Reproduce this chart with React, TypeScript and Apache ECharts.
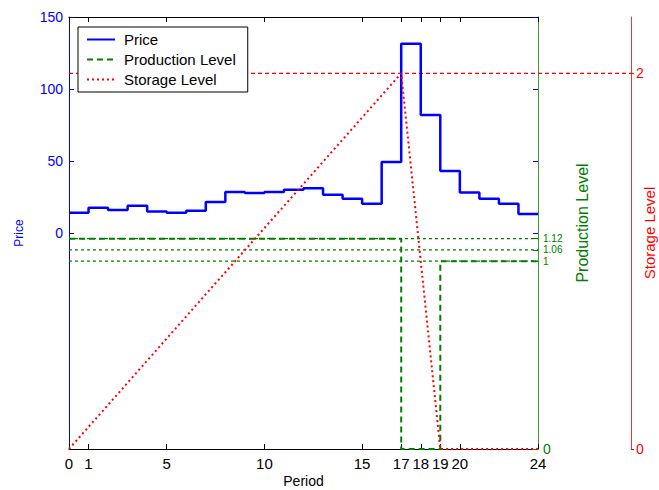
import React, { useEffect, useRef } from "react";
import * as echarts from "echarts";

// ---- data ----
const periods = [0, 1, 2, 3, 4, 5, 6, 7, 8, 9, 10, 11, 12, 13, 14, 15, 16, 17, 18, 19, 20, 21, 22, 23, 24];
// price held during period k (interval [k-1, k]), k = 1..24
const price = [14, 17.6, 16, 19, 15, 14, 15.5, 21.5, 28.5, 27.8, 28.5, 30, 31, 26.6, 23.8, 20.3, 49.3, 131.5, 82, 43, 28.2, 23.8, 20.3, 13.2];
// production level held during period k, k = 1..24
const production = [1.12, 1.12, 1.12, 1.12, 1.12, 1.12, 1.12, 1.12, 1.12, 1.12, 1.12, 1.12, 1.12, 1.12, 1.12, 1.12, 1.12, 0, 0, 1, 1, 1, 1, 1];
// storage level breakpoints
const storageX = [0, 17, 19, 24];
const storageY = [0, 2, 0, 0];
const productionRefLevels = [1.12, 1.06, 1];
const storageRefLevels = [2];

const xTicks = [0, 1, 5, 10, 15, 17, 18, 19, 20, 24];
const priceTicks = [0, 50, 100, 150];
const productionTicks = [0, 1, 1.12];
const productionMidTicks = [1.06];
const productionTickLabels: Record<string, string> = { "0": "0", "1": "1", "1.06": "1.06", "1.12": "1.12" };
const storageTicks = [0, 2];

// ---- layout ----
const W = 659;
const H = 490;
const LEFT = 69;
const TOP = 17;
const RIGHT1 = 538;
const RIGHT2 = 631;
const BOTTOM = 449;

const BLUE = "#0000ff";
const GREEN = "#008000";
const RED = "#ff0000";
const FONT = "Liberation Sans, Arial, sans-serif";

export default function App() {
  const ref = useRef<HTMLDivElement>(null);
  useEffect(() => {
    document.body.style.margin = "0";
    if (!ref.current) return;
    const chart = echarts.init(ref.current, null, { renderer: "svg" });
    const xMax = periods[periods.length - 1];
    const xMax2 = (xMax * (RIGHT2 - LEFT)) / (RIGHT1 - LEFT);

    const stepData = (vals: number[]) =>
      periods.map((p, i) => [p, vals[i === 0 ? 0 : i - 1]]);

    const prodFormatter = (v: number) => {
      const key = String(Math.round(v * 100) / 100);
      const txt = productionTickLabels[key] ?? key;
      return v === 0 ? "{big|" + txt + "}" : "{s|" + txt + "}";
    };

    const prodLabel = (vals: number[]) => ({
      customValues: vals,
      formatter: prodFormatter,
      color: GREEN,
      fontSize: 10,
      lineHeight: 10,
      margin: 5,
      fontFamily: FONT,
      hideOverlap: false,
      rich: {
        s: { color: GREEN, fontSize: 10, lineHeight: 10, fontFamily: FONT },
        big: { color: GREEN, fontSize: 14, lineHeight: 14, fontFamily: FONT },
      },
    });

    const refSeries: any[] = [
      ...productionRefLevels.map((v) => ({
        name: "ref-prod-" + v,
        type: "line",
        xAxisIndex: 0,
        yAxisIndex: 2,
        symbol: "none",
        silent: true,
        data: [
          [0, v],
          [xMax, v],
        ],
        lineStyle: { color: GREEN, width: 1.2, type: [3, 3] },
        itemStyle: { color: GREEN },
        z: 2,
      })),
      ...storageRefLevels.map((v) => ({
        name: "ref-stor-" + v,
        type: "line",
        xAxisIndex: 2,
        yAxisIndex: 3,
        symbol: "none",
        silent: true,
        data: [
          [0, v],
          [xMax2, v],
        ],
        lineStyle: { color: RED, width: 1.2, type: [4, 3] },
        itemStyle: { color: RED },
        z: 2,
      })),
    ];

    const option: any = {
      animation: false,
      backgroundColor: "#ffffff",
      textStyle: { fontFamily: FONT },
      grid: [
        { left: LEFT, top: TOP, width: RIGHT1 - LEFT, height: BOTTOM - TOP, containLabel: false, outerBoundsMode: "none" },
        { left: LEFT, top: TOP, width: RIGHT2 - LEFT, height: BOTTOM - TOP, containLabel: false, outerBoundsMode: "none" },
      ],
      legend: {
        data: ["Price", "Production Level", "Storage Level"],
        orient: "vertical",
        left: 78,
        top: 27,
        itemWidth: 28,
        itemHeight: 14,
        itemGap: 5,
        padding: [5, 12, 5, 8],
        borderColor: "#000",
        borderWidth: 1,
        borderRadius: 0,
        backgroundColor: "#fff",
        itemStyle: { opacity: 0, borderWidth: 0 },
        textStyle: { color: "#000", fontSize: 15, fontFamily: FONT, padding: [0, 0, 0, 4] },
      },
      xAxis: [
        {
          gridIndex: 0,
          type: "value",
          min: 0,
          max: xMax,
          position: "bottom",
          axisLine: { onZero: false, lineStyle: { color: "#000", width: 1 } },
          axisTick: { inside: true, length: 5, customValues: xTicks, lineStyle: { color: "#000" } },
          axisLabel: { customValues: xTicks, color: "#000", fontSize: 15, margin: 7, fontFamily: FONT, hideOverlap: false },
          splitLine: { show: false },
          name: "Period",
          nameLocation: "middle",
          nameGap: 25,
          nameMoveOverlap: false,
          nameTextStyle: { color: "#000", fontSize: 14, fontFamily: FONT },
        },
        {
          gridIndex: 0,
          type: "value",
          min: 0,
          max: xMax,
          position: "top",
          axisLine: { onZero: false, lineStyle: { color: "#000", width: 1 } },
          axisTick: { inside: true, length: 5, customValues: xTicks, lineStyle: { color: "#000" } },
          axisLabel: { show: false },
          splitLine: { show: false },
        },
        {
          gridIndex: 1,
          type: "value",
          min: 0,
          max: xMax2,
          show: false,
          splitLine: { show: false },
        },
      ],
      yAxis: [
        {
          gridIndex: 0,
          type: "value",
          min: -150,
          max: 150,
          position: "left",
          axisLine: { show: true, onZero: false, lineStyle: { color: BLUE, width: 1 } },
          axisTick: { show: true, inside: true, length: 5, customValues: priceTicks, lineStyle: { color: BLUE } },
          axisLabel: { customValues: priceTicks, color: BLUE, fontSize: 14, margin: 6, fontFamily: FONT },
          splitLine: { show: false },
          name: "Price",
          nameLocation: "middle",
          nameGap: 44,
          nameMoveOverlap: false,
          nameRotate: 90,
          nameTextStyle: { color: BLUE, fontSize: 12, fontFamily: FONT },
        },
        {
          gridIndex: 0,
          type: "value",
          min: -150,
          max: 150,
          position: "right",
          axisLine: { show: false, onZero: false },
          axisTick: { show: true, inside: true, length: 5, customValues: priceTicks, lineStyle: { color: BLUE } },
          axisLabel: { show: false },
          splitLine: { show: false },
        },
        {
          gridIndex: 0,
          type: "value",
          min: 0,
          max: 2.3,
          position: "right",
          axisLine: { show: true, onZero: false, lineStyle: { color: "#3a9a3a", width: 1 } },
          axisTick: { show: true, inside: true, length: 5, customValues: productionTicks, lineStyle: { color: GREEN } },
          axisLabel: prodLabel(productionTicks),
          splitLine: { show: false },
          name: "Production Level",
          nameLocation: "middle",
          nameGap: 36,
          nameMoveOverlap: false,
          nameRotate: 90,
          nameTextStyle: { color: GREEN, fontSize: 16, fontFamily: FONT, padding: [0, 0, 0, 20] },
        },
        {
          gridIndex: 1,
          type: "value",
          min: 0,
          max: 2.3,
          position: "right",
          axisLine: { show: true, onZero: false, lineStyle: { color: "#ff3030", width: 1 } },
          axisTick: { show: true, inside: false, length: 3, customValues: storageTicks, lineStyle: { color: RED } },
          axisLabel: { customValues: storageTicks, color: RED, fontSize: 14, margin: 5, fontFamily: FONT },
          splitLine: { show: false },
          name: "Storage Level",
          nameLocation: "middle",
          nameGap: 11,
          nameMoveOverlap: false,
          nameRotate: 90,
          nameTextStyle: { color: RED, fontSize: 15, fontFamily: FONT },
        },
        {
          gridIndex: 0,
          type: "value",
          min: 0,
          max: 2.3,
          position: "right",
          axisLine: { show: false, onZero: false },
          axisTick: { show: true, inside: true, length: 5, customValues: productionMidTicks, lineStyle: { color: GREEN } },
          axisLabel: prodLabel(productionMidTicks),
          splitLine: { show: false },
        },
      ],
      series: [
        ...refSeries,
        {
          name: "Price",
          type: "line",
          xAxisIndex: 0,
          yAxisIndex: 0,
          step: "start",
          symbol: "none",
          data: stepData(price),
          lineStyle: { color: BLUE, width: 2.5 },
          itemStyle: { color: BLUE },
          z: 3,
        },
        {
          name: "Production Level",
          type: "line",
          xAxisIndex: 0,
          yAxisIndex: 2,
          step: "start",
          symbol: "none",
          data: stepData(production),
          lineStyle: { color: GREEN, width: 2, type: [6, 4] },
          itemStyle: { color: GREEN },
          z: 4,
        },
        {
          name: "Storage Level",
          type: "line",
          xAxisIndex: 2,
          yAxisIndex: 3,
          symbol: "none",
          data: storageX.map((x, i) => [x, storageY[i]]),
          lineStyle: { color: RED, width: 2, type: [2, 3] },
          itemStyle: { color: RED },
          z: 5,
        },
      ],
    };
    chart.setOption(option);
    return () => chart.dispose();
  }, []);
  return <div ref={ref} style={{ width: W, height: H }} />;
}
